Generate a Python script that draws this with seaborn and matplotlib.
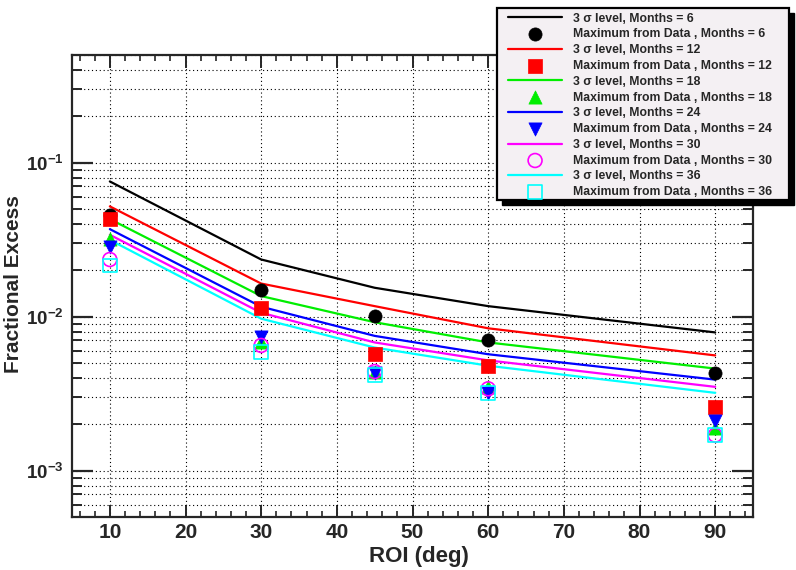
import matplotlib
matplotlib.use("Agg")
import matplotlib.pyplot as plt
import seaborn as sns
import numpy as np
from matplotlib.ticker import LogLocator, FixedLocator, MultipleLocator, NullFormatter, FuncFormatter
from matplotlib.patches import Rectangle

# ---- data ----
roi = [10, 30, 45, 60, 90]
months = [6, 12, 18, 24, 30, 36]
sigma3_m6 = [0.0755, 0.0235, 0.0154, 0.0117, 0.0079]
sigma3_m12 = [0.052, 0.0164, 0.0117, 0.0084, 0.0056]
sigma3_m18 = [0.043, 0.0136, 0.0092, 0.0068, 0.0046]
sigma3_m24 = [0.037, 0.0116, 0.0075, 0.0057, 0.0039]
sigma3_m30 = [0.034, 0.0106, 0.0068, 0.0052, 0.0035]
sigma3_m36 = [0.0315, 0.0097, 0.0063, 0.0048, 0.0032]
max_m6 = [0.046, 0.0150, 0.0101, 0.0071, 0.0043]
max_m12 = [0.0431, 0.0114, 0.0057, 0.0048, 0.0026]
max_m18 = [0.032, 0.0068, 0.0044, 0.0035, 0.0019]
max_m24 = [0.0282, 0.0074, 0.0043, 0.0032, 0.0021]
max_m30 = [0.0235, 0.0065, 0.0044, 0.0034, 0.0017]
max_m36 = [0.0215, 0.0059, 0.0042, 0.0032, 0.0017]
x_ticks = [10, 20, 30, 40, 50, 60, 70, 80, 90]

sigma_series = [sigma3_m6, sigma3_m12, sigma3_m18, sigma3_m24, sigma3_m30, sigma3_m36]
max_series = [max_m6, max_m12, max_m18, max_m24, max_m30, max_m36]
colors = ["black", "#ff0000", "#00ee00", "#0000ff", "#ff00ff", "#00ffff"]
mstyles = [("o", True), ("s", True), ("^", True), ("v", True), ("o", False), ("s", False)]

sns.set_style("ticks")
plt.rcParams["font.family"] = ["Liberation Sans", "DejaVu Sans"]
plt.rcParams["font.weight"] = "bold"
plt.rcParams["mathtext.fontset"] = "custom"
plt.rcParams["mathtext.bf"] = "Liberation Sans:bold"
plt.rcParams["mathtext.rm"] = "Liberation Sans:bold"

W, H = 796, 570
fig = plt.figure(figsize=(W / 100, H / 100), dpi=100)
ax = fig.add_axes([72 / W, 1 - 517 / H, (753 - 72) / W, (517 - 55) / H])

for m, s, c in zip(months, sigma_series, colors):
    lab = f"3 σ level, Months = {m}"
    sns.lineplot(x=roi, y=s, color=c, lw=1.6, ax=ax, label=lab, estimator=None, zorder=3)

for m, d, c, (mk, filled) in zip(months, max_series, colors, mstyles):
    lab = f"Maximum from Data , Months = {m}"
    if filled:
        sns.scatterplot(x=roi, y=d, marker=mk, s=90, color=c, edgecolor=c, linewidth=0.5,
                        ax=ax, label=lab, zorder=4)
    else:
        sns.scatterplot(x=roi, y=d, marker=mk, s=100, facecolor="none", edgecolor=c,
                        linewidth=1.2, ax=ax, label=lab, zorder=4)

ax.set_yscale("log")
ax.set_ylim(5e-4, 0.5)
ax.set_xlim(5, 95)

ax.xaxis.set_major_locator(FixedLocator(x_ticks))
ax.xaxis.set_minor_locator(MultipleLocator(2))
ax.yaxis.set_major_locator(LogLocator(base=10, numticks=10))
ax.yaxis.set_minor_locator(LogLocator(base=10, subs=np.arange(2, 10), numticks=20))
ax.yaxis.set_minor_formatter(NullFormatter())
ax.yaxis.set_major_formatter(FuncFormatter(lambda v, p: r"$\mathbf{10^{%d}}$" % int(round(np.log10(v)))))

ax.grid(which="major", axis="x", ls=(0, (1, 2.5)), color="black", lw=0.8)
ax.grid(which="both", axis="y", ls=(0, (1, 2.5)), color="black", lw=0.8)

ax.tick_params(which="both", direction="in", top=True, right=True)
ax.tick_params(axis="y", which="major", length=15, width=1.6, labelsize=13.5, pad=6)
ax.tick_params(axis="y", which="minor", length=7, width=1.4)
ax.tick_params(axis="x", which="major", length=9, width=1.4, labelsize=15, pad=4)
ax.tick_params(axis="x", which="minor", length=4.5, width=1.2)
for lab in ax.get_xticklabels() + ax.get_yticklabels():
    lab.set_fontweight("bold")
for sp in ax.spines.values():
    sp.set_linewidth(1.6)

ax.set_xlabel("")
ax.set_ylabel("")
fig.text(418.5 / W, 1 - 562 / H, "ROI (deg)", fontsize=16, fontweight="bold", ha="center", va="baseline")
fig.text(14 / W, 1 - 284 / H, "Fractional Excess", fontsize=15, fontweight="bold",
         rotation=90, ha="center", va="center")

h, l = ax.get_legend_handles_labels()
hm = dict(zip(l, h))
order = []
for m in months:
    order.append(f"3 σ level, Months = {m}")
    order.append(f"Maximum from Data , Months = {m}")
ax.get_legend().remove()

# legend frame + shadow
lx0, ly0, lx1, ly1 = 497, 8, 789, 200
fig.patches.append(Rectangle(((lx0 + 5) / W, 1 - (ly1 + 5) / H), (lx1 - lx0) / W, (ly1 - ly0) / H,
                             transform=fig.transFigure, facecolor="black", edgecolor="black", zorder=5))
fig.patches.append(Rectangle((lx0 / W, 1 - ly1 / H), (lx1 - lx0) / W, (ly1 - ly0) / H,
                             transform=fig.transFigure, facecolor="#f4f0f3", edgecolor="black",
                             lw=1.6, zorder=5.5))
leg = fig.legend([hm[k] for k in order], order, loc="upper left",
                 bbox_to_anchor=(508 / W, 1 - 12.6 / H), bbox_transform=fig.transFigure,
                 fontsize=8.8, frameon=False, borderaxespad=0, borderpad=0, handlelength=4.43,
                 handletextpad=0.9, labelspacing=0.31)
leg.set_zorder(6)
for t in leg.get_texts():
    t.set_fontweight("bold")

fig.savefig("out.png", dpi=100, facecolor="white")
